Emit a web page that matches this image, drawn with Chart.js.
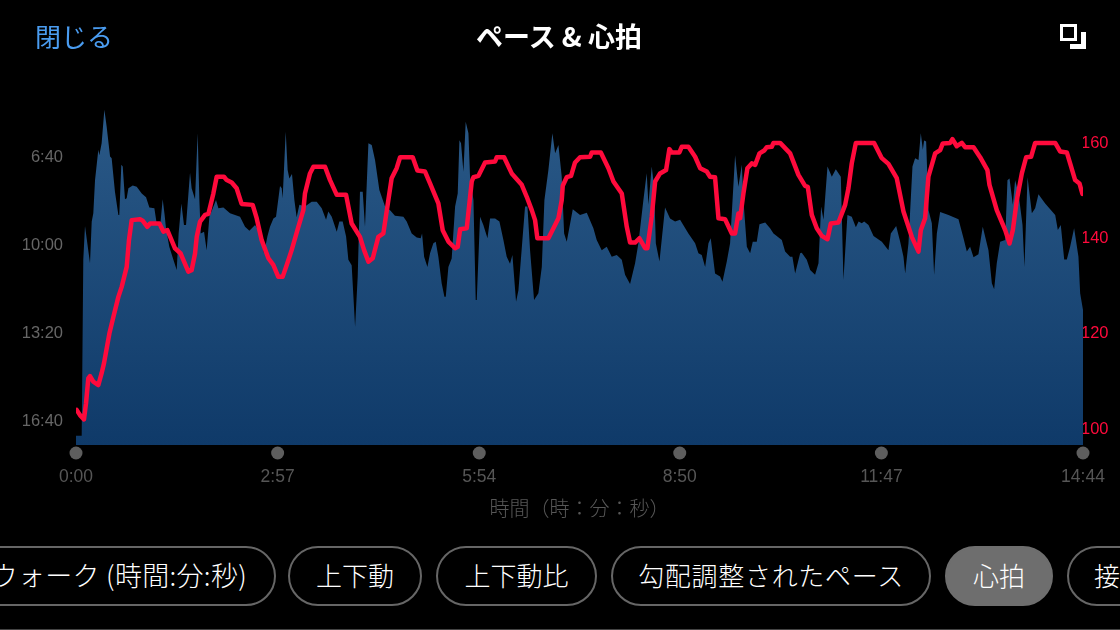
<!DOCTYPE html>
<html lang="ja">
<head>
<meta charset="utf-8">
<title>ペース &amp; 心拍</title>
<script src="https://cdn.jsdelivr.net/npm/chart.js@4"></script>
<style>
  html, body { margin: 0; width: 1120px; height: 630px; background: #000; overflow: hidden; }
  body { position: relative; font-family: "Noto Sans CJK JP", "Noto Sans", sans-serif; color: #fff; }
  canvas { position: absolute; left: 0; top: 0; }
  .close { position: absolute; left: 35px; top: 17px; font-size: 26px; line-height: 38px; color: #4a9cf0; font-weight: 400; }
  .title { position: absolute; left: 0; width: 1118px; top: 17px; text-align: center; font-size: 27px; line-height: 38px; font-weight: 700; }
  .icon-a { position: absolute; left: 1060px; top: 24px; width: 11px; height: 11px; border: 3px solid #fff; }
  .icon-b { position: absolute; left: 1081px; top: 32px; width: 5px; height: 17px; background: #fff; }
  .icon-c { position: absolute; left: 1070px; top: 44px; width: 11px; height: 5px; background: #fff; }
  .pill { position: absolute; top: 546px; height: 56px; line-height: 54px; border: 2px solid #666; border-radius: 30px; font-size: 26px; font-weight: 300; white-space: nowrap; box-sizing: content-box; text-align: center; }
  .pill.on { background: #6e6e6e; border-color: #6e6e6e; }
  .rule { position: absolute; left: 0; right: 0; top: 629px; height: 1px; background: #444; }
</style>
</head>
<body>
<canvas id="paceChart" width="1120" height="530"></canvas>
<div class="close">閉じる</div>
<div class="title">ペース &amp; 心拍</div>
<div class="icon-a"></div><div class="icon-b"></div><div class="icon-c"></div>
<div class="pill" style="left:-90px;width:335px;padding-right:27px;text-align:right;font-size:27px;letter-spacing:0.3px;">ウォーク (時間:分:秒)</div>
<div class="pill" style="left:288px;width:130px;">上下動</div>
<div class="pill" style="left:436px;width:157px;">上下動比</div>
<div class="pill" style="left:611px;width:316px;letter-spacing:0.7px;">勾配調整されたペース</div>
<div class="pill on" style="left:945px;width:104px;">心拍</div>
<div class="pill" style="left:1067px;width:105px;padding-left:25px;text-align:left;">接地時間</div>
<div class="rule"></div>
<script>
// seconds elapsed
const timeTicks = [0, 177, 354, 530, 707, 884];
// pace in seconds per km
const paceTicks = [400, 600, 800, 1000];
const hrTicks = [100, 120, 140, 160];

const paceTimes = [0,5,6.4,7.9,12.3,13.8,15.2,16.7,19.6,20.5,22.5,24.9,26.9,29.9,31.3,34.2,37.2,38,39.8,41,43,44.5,46,49.8,53.3,57.7,61.5,64.4,68.8,70.8,73.7,76.1,77.8,79,81.9,85.5,88.4,90.1,92.5,94.8,96.6,100.1,101.5,104.5,106.8,108.3,109.5,112.4,114.7,117.1,122.9,125,129.4,135.2,144,148.4,152.2,157.2,161,165.1,168,170.3,173.3,175.6,179.1,180.6,181.4,184.1,185.8,187.3,189.6,191.7,193.7,196.1,201,206.9,211.3,215.7,219.5,221.5,224.5,228.9,231.2,234.1,237.1,239.1,242,245,247.3,249.3,251.7,253.7,256.7,259.6,262.5,266.3,271.3,275.7,280,287.4,290.3,294.7,299.1,302.6,303.8,305.6,308.5,310.8,313.7,315.8,318.1,321,323.4,324.6,326.9,329.8,332.8,335.1,336.6,338,340.1,342.1,344.5,345.9,348.9,350.9,351.8,354.7,357.6,361.2,363.5,367.9,371.7,375.2,378.1,381,383.1,386.3,388.4,391.3,394.2,396.3,398.6,402.1,405.9,408.9,411.2,414.7,418.2,420.6,423.5,426.4,428.5,430.8,436.1,442.5,448.4,454.2,457.1,461.5,465.9,470.3,474.7,479.1,482,486.4,490.8,493.7,498.1,501,502.5,505.4,507.5,509,512.2,517.1,521.5,525.9,530.3,537.6,543.5,546.4,549.3,552.3,555.2,557.2,561,565.4,567.5,571.3,574.2,578.6,581.5,584.5,585.9,588.9,591.8,594.1,597.6,600,605,609.3,612.3,619.6,622.5,626.9,628.9,631.3,635.7,637.1,641.5,644.5,648.8,651.8,654.1,656.2,659.7,663.5,667,671.4,672.3,673.7,677.2,681,684.6,687,689.8,691.9,695.7,700.1,707.4,713.2,715.3,720,723.5,726.4,727.9,730.8,734.3,736.6,739.6,741.6,743.4,744.5,746.3,748.4,751.3,753.3,755.7,758.6,765.9,774.7,779.1,782,784.9,787.9,792.2,796,801,804,806,808.3,811.3,815.7,817.7,819.5,822.4,824.4,827.4,830.9,832.6,835.3,839.1,842,844.9,850.8,859.6,861.9,864.5,867.5,869.8,872.7,876.2,880,881.5,884];
const paceValues = [1036,1036,636,559,644,549,530,455,386,398,371,295,333,401,405,481,534,534,420,424,498,496,473,467,470,485,494,517,519,553,564,498,534,564,606,636,659,576,508,557,557,438,473,498,348,500,576,572,614,538,500,519,517,530,538,561,570,557,572,621,583,561,542,538,468,473,496,345,432,451,441,500,539,511,515,504,504,519,545,526,538,572,549,549,583,636,648,788,674,481,481,561,371,375,409,477,515,523,536,538,549,576,585,587,576,629,652,621,598,595,629,689,720,720,652,633,515,485,364,371,436,322,348,447,500,727,727,538,557,587,542,542,549,591,629,645,625,731,705,610,515,515,614,727,712,652,500,432,348,394,375,447,576,595,521,534,529,564,591,614,606,629,625,636,670,691,644,598,500,439,511,424,470,598,640,517,542,549,545,576,598,621,625,652,598,587,667,674,686,640,598,398,470,420,500,606,621,595,595,555,551,564,576,591,617,629,629,667,621,620,636,659,670,644,515,545,424,447,430,447,538,682,534,538,562,549,553,549,557,582,595,614,576,559,595,629,667,598,424,405,409,348,386,365,367,523,553,670,576,527,534,544,587,617,606,630,623,561,614,689,703,644,595,591,455,451,511,455,485,557,652,448,530,519,487,508,534,568,557,635,635,606,564,629,712,750];

const hrTimes = [0.6,3.5,7,8.8,10.8,12.3,15.2,19.6,22.5,24.6,29.3,32.8,37.2,40.1,44.5,46.5,48.9,56.2,58.5,62.6,65,73.2,76.7,80.2,86.9,91.9,98.6,101.5,104.5,106,108.9,113.3,116.2,120.6,123.5,129.9,132.3,136.7,141,145.4,155.1,158.6,163,168.9,173.2,177.6,181.4,185,189.3,195.2,199.6,201,205.4,208.4,218.6,223,228.9,237.1,242,249.3,252.9,256.7,260.5,265.4,269.8,274.2,277.1,281.5,284.5,295.6,299.7,306.4,310.8,318.1,321.9,326.9,332.8,335.1,337.2,343,347.4,348.9,353.3,359.1,367.9,369.4,375.8,382.5,391.3,395.7,400.1,403,405,414.7,419.1,423.5,426.4,427.3,430.8,434.6,438.1,442.5,451.3,452.8,460.7,467.4,471.8,479.1,483.5,486.4,490.8,494.6,499.6,501.6,505.4,508.4,512.7,518,520.9,523,529.7,531.8,537.6,543.5,547.9,553.7,556.6,561,564,569.8,575.7,578.6,581.5,583,585.9,589.4,593.2,596.2,600,604.1,606.4,610.8,612.3,618.1,626.9,634.2,640,642.4,645.9,650.3,654.7,659.7,662.6,669.3,675.2,678.1,681,684.6,700.6,707.4,713.2,720.5,726.4,733.7,739.6,741.6,745.4,748.3,754.2,758.6,760.9,767.4,769.4,773.2,777.6,780.5,787.9,793.7,800.1,801.9,808.3,815.7,819.5,822.4,825.9,830.3,834.1,838.5,842,859.6,863.9,869.8,872.7,877.1,880.9,883.5];
const hrValues = [103.8,102.7,101.8,105.2,110.4,110.9,109.7,109,111.5,113.6,119.8,123.3,127.5,129.6,133.8,139.4,143.6,143.8,143.5,142.2,142.9,142.9,141.2,141.5,137.7,136.6,132.8,133.1,136.6,140.1,143.3,144.7,144.9,149.2,152.7,152.7,152,151.5,150.3,147,146.8,144,139.4,135.6,134.2,131.7,131.7,134.2,137.3,142.2,145.7,149.2,153.4,154.8,154.8,152,148.9,148.9,142.9,140.1,137.3,134.9,135.6,140.1,140.8,147.8,152.4,154.5,156.8,156.8,154,153.8,151.3,147.1,141.5,139.1,137.7,138,141.7,141.9,151.7,152.6,152.9,155.7,155.9,156.8,156.8,153.4,151,148.5,145.7,143.6,139.8,139.8,141.9,144,147.8,150.8,152.6,152.9,155.7,156.8,156.9,157.8,157.8,154.5,151.7,149.2,142.2,138.9,138.9,139.8,137.7,137.7,144.3,151.7,153.4,154.1,158.5,157.8,157.8,159,159,156.9,154.5,153.8,152.7,152.6,144,143.8,140.8,140.8,145,144,149.2,154.5,155.5,155.2,157.6,158.2,158.9,159,159.8,159.8,157.6,153.1,150.8,150.6,144.7,141.9,140.3,139.6,142.9,143.1,146.8,150.3,155.5,159.8,159.8,156.6,155.4,152.4,145.4,140.1,137,141.5,144,152.7,157.6,158.3,159.7,159.8,160.6,159.1,159.8,158.9,158.9,156.8,154.1,151,145.7,141.5,138.7,141.5,147.8,153.4,156.8,156.9,159.8,159.8,158,157.8,155.5,152,151.3,149.1];

function mmss(sec) {
    const m = Math.floor(sec / 60);
    const s = Math.round(sec - m * 60);
    return m + ':' + String(s).padStart(2, '0');
}

// two-line label with a small line height nudges the text just below its tick
const yTickFont = { family: '"Liberation Sans", sans-serif', size: 16.5, lineHeight: '2.5px' };
const xTickFont = { family: '"Liberation Sans", sans-serif', size: 17.5 };

// grey dots under the plot, one per time tick
const tickDots = {
    id: 'tickDots',
    afterDraw(chart) {
        const ctx = chart.ctx;
        const x = chart.scales.x;
        ctx.save();
        ctx.fillStyle = '#5e5e5e';
        timeTicks.forEach(t => {
            ctx.beginPath();
            ctx.arc(x.getPixelForValue(t), x.top + 8, 6.5, 0, Math.PI * 2);
            ctx.fill();
        });
        ctx.restore();
    }
};

function areaGradient(context) {
    const area = context.chart.chartArea;
    if (!area) return '#1c4a7a';
    const g = context.chart.ctx.createLinearGradient(0, area.top, 0, area.bottom);
    g.addColorStop(0, '#2b5a88');
    g.addColorStop(1, '#0f3a69');
    return g;
}

new Chart(document.getElementById('paceChart').getContext('2d'), {
    type: 'line',
    data: {
        datasets: [{
            label: '心拍',
            yAxisID: 'hr',
            order: 0,
            data: hrTimes.map((t, i) => ({ x: t, y: hrValues[i] })),
            borderColor: '#ff0a3c',
            borderWidth: 4.5,
            borderJoinStyle: 'round',
            borderCapStyle: 'round',
            pointRadius: 0,
            fill: false
        }, {
            label: 'ペース',
            yAxisID: 'pace',
            order: 1,
            data: paceTimes.map((t, i) => ({ x: t, y: paceValues[i] })),
            borderWidth: 0,
            pointRadius: 0,
            backgroundColor: areaGradient,
            fill: 'start'
        }]
    },
    options: {
        responsive: false,
        animation: false,
        layout: { padding: { top: 100 } },
        plugins: { legend: { display: false }, tooltip: { enabled: false } },
        scales: {
            x: {
                type: 'linear',
                min: 0,
                max: 884,
                grid: { display: false },
                border: { display: false },
                afterBuildTicks: s => { s.ticks = timeTicks.map(v => ({ value: v })); },
                afterFit: s => { s.height = 85; s.paddingLeft = 0; s.paddingRight = 0; },
                ticks: {
                    color: '#565656',
                    font: xTickFont,
                    padding: 14,
                    maxRotation: 0,
                    autoSkip: false,
                    callback: v => mmss(v)
                },
                title: {
                    display: true,
                    text: '時間（時：分：秒）',
                    color: '#575757',
                    font: { family: '"Noto Sans CJK JP"', size: 20, weight: 300 },
                    padding: { top: 0, bottom: 10 }
                }
            },
            pace: {
                position: 'left',
                reverse: true,
                min: 272.7,
                max: 1056.8,
                grid: { display: false },
                border: { display: false },
                afterBuildTicks: s => { s.ticks = paceTicks.map(v => ({ value: v })); },
                afterFit: s => { s.width = 76; s.paddingTop = 0; s.paddingBottom = 0; },
                ticks: { color: '#666666', font: yTickFont, padding: 5, callback: v => ['', mmss(v)] }
            },
            hr: {
                position: 'right',
                min: 96.43,
                max: 168.8,
                grid: { display: false },
                border: { display: false },
                afterBuildTicks: s => { s.ticks = hrTicks.map(v => ({ value: v })); },
                afterFit: s => { s.width = 37; s.paddingTop = 0; s.paddingBottom = 0; },
                ticks: { color: '#ff0a3c', font: yTickFont, padding: -10, callback: v => ['', String(v)] }
            }
        }
    },
    plugins: [tickDots]
});
</script>
</body>
</html>
